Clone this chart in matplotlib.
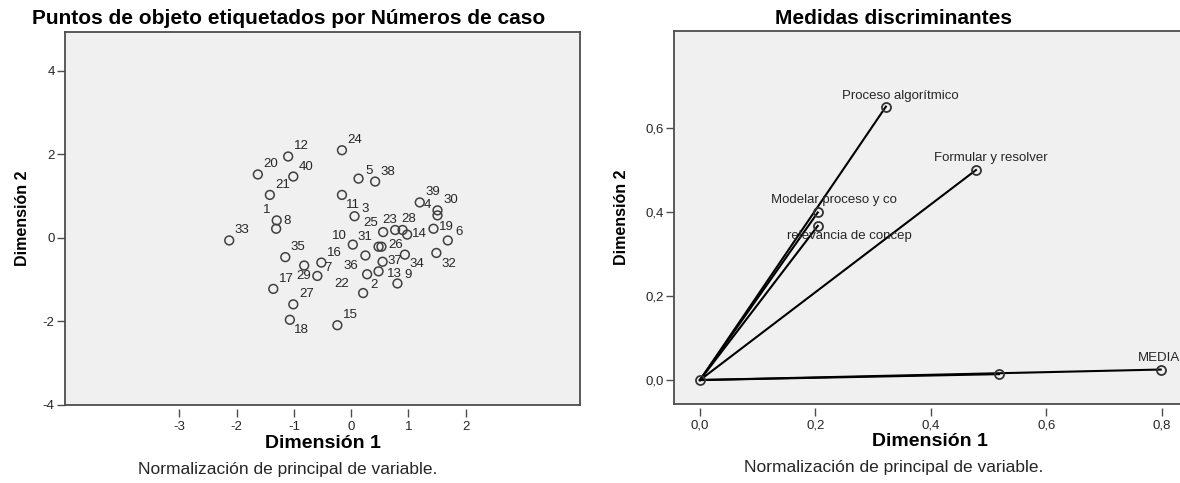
import matplotlib.pyplot as plt
from matplotlib.ticker import FuncFormatter

plt.rcParams['font.family'] = ['Liberation Sans', 'DejaVu Sans']
plt.rcParams['axes.unicode_minus'] = False

# Puntos de objeto: casos 1..40 (dimension 1, dimension 2)
casos = list(range(1, 41))
dim1_casos = [-1.30, 0.21, 0.06, 1.51, 0.13, 1.69, -0.59, -1.31, 0.81, 0.03,
              -0.16, -1.10, 0.48, 0.98, -0.24, -0.52, -1.36, -1.07, 1.44, -1.63,
              -1.42, 0.28, 0.77, -0.16, 0.56, 0.53, -1.01, 0.90, -0.82, 1.51,
              0.48, 1.49, -2.13, 0.94, -1.15, 0.25, 0.55, 0.42, 1.20, -1.01]
dim2_casos = [0.42, -1.32, 0.52, 0.54, 1.42, -0.06, -0.91, 0.22, -1.09, -0.16,
              1.03, 1.95, -0.80, 0.08, -2.09, -0.59, -1.22, -1.96, 0.22, 1.52,
              1.03, -0.87, 0.19, 2.10, 0.14, -0.21, -1.59, 0.19, -0.66, 0.66,
              -0.21, -0.36, -0.06, -0.40, -0.46, -0.42, -0.57, 1.35, 0.85, 1.47]

# Medidas discriminantes por variable
variables = ['Proceso algorítmico', 'Formular y resolver', 'Modelar proceso y co',
             'relevancia de concep', '', 'MEDIA']
dim1_var = [0.322, 0.478, 0.204, 0.204, 0.518, 0.798]
dim2_var = [0.651, 0.500, 0.399, 0.367, 0.014, 0.025]

ticks_x_casos = [-3, -2, -1, 0, 1, 2]
ticks_y_casos = [-4, -2, 0, 2, 4]
ticks_x_var = [0.0, 0.2, 0.4, 0.6, 0.8]
ticks_y_var = [0.0, 0.2, 0.4, 0.6]

# desplazamiento de las etiquetas (px, x a la derecha, y hacia abajo)
desp_defecto = (13, -10)
desp_casos = {1: (-10, -10), 4: (-10, -10), 11: (11, 10), 3: (11, -7),
              25: (-12, -9), 23: (-5, -10), 28: (6, -11), 14: (12, -1),
              19: (13, -2), 10: (-13, -9), 31: (-14, -10), 26: (14, -2),
              37: (12, -1), 34: (12, 9), 32: (12, 11), 36: (-15, 11),
              29: (0, 11), 13: (16, 3), 22: (-25, 10), 18: (12, 10)}
desp_var = [(14, -11), (15, -12), (16, -12), (32, 10), (0, 0), (-2, -12)]

FONDO = '#f0f0f0'
MARCO = '#4d4d4d'
TEXTO = '#262626'
PX = 0.72  # puntos por pixel a 100 dpi


def estilo_ejes(ax, xt, yt, fmt):
    ax.set_facecolor(FONDO)
    for s in ax.spines.values():
        s.set_color(MARCO)
        s.set_linewidth(1.3)
    ax.set_yticks(yt)
    ax.yaxis.set_major_formatter(FuncFormatter(fmt))
    ax.tick_params(axis='y', direction='out', length=6, width=1,
                   color=MARCO, labelsize=9.5, labelcolor=TEXTO, pad=1.5)
    ax.tick_params(axis='x', bottom=False, labelbottom=False)
    # marcas del eje x un poco separadas del marco
    sec = ax.secondary_xaxis(-0.012)
    sec.set_xticks(xt)
    sec.xaxis.set_major_formatter(FuncFormatter(fmt))
    sec.spines['bottom'].set_visible(False)
    sec.tick_params(axis='x', direction='out', length=6, width=1,
                    color=MARCO, labelsize=9.5, labelcolor=TEXTO, pad=2)


fig = plt.figure(figsize=(11.8, 4.83), dpi=100)

# ---- Puntos de objeto ----
ax1 = fig.add_axes([0.0551, 0.1615, 0.4364, 0.7722])
ax1.scatter(dim1_casos, dim2_casos, s=40, facecolors='none',
            edgecolors='#404040', linewidths=1.1, zorder=3)
for c, x, y in zip(casos, dim1_casos, dim2_casos):
    dx, dy = desp_casos.get(c, desp_defecto if c >= 10 else (11, -8))
    ax1.annotate(str(c), (x, y), xytext=(dx * PX, -dy * PX),
                 textcoords='offset points', ha='center', va='center',
                 fontsize=9.5, color=TEXTO)
ax1.set_xlim(-5, 4)
ax1.set_ylim(-4, 4.93)
estilo_ejes(ax1, ticks_x_casos, ticks_y_casos, lambda v, p: '%d' % v)
ax1.set_xlabel('Dimensión 1', fontsize=14, fontweight='bold', va='center')
ax1.xaxis.set_label_coords(0.5, -0.102)
ax1.set_ylabel('Dimensión 2', fontsize=11.5, fontweight='bold', va='center',
               family=['Liberation Sans Narrow', 'Liberation Sans'])
ax1.yaxis.set_label_coords(-0.083, 0.5)

# ---- Medidas discriminantes ----
ax2 = fig.add_axes([0.5712, 0.1636, 0.4330, 0.7722])
for x, y in zip(dim1_var, dim2_var):
    ax2.plot([0, x], [0, y], color='black', lw=1.5, zorder=2)
ax2.plot([0] + dim1_var, [0] + dim2_var, ls='none', marker='o', ms=6.5,
         mfc='none', mec='#333333', mew=1.3, zorder=3)
for nombre, x, y, (dx, dy) in zip(variables, dim1_var, dim2_var, desp_var):
    if nombre:
        ax2.annotate(nombre, (x, y), xytext=(dx * PX, -dy * PX),
                     textcoords='offset points', ha='center', va='center',
                     fontsize=9.5, color=TEXTO)
ax2.set_xlim(-0.045, 0.840)
ax2.set_ylim(-0.057, 0.831)
estilo_ejes(ax2, ticks_x_var, ticks_y_var,
            lambda v, p: ('%.1f' % v).replace('.', ','))
ax2.set_xlabel('Dimensión 1', fontsize=14, fontweight='bold', va='center')
ax2.xaxis.set_label_coords(0.5, -0.1)
ax2.set_ylabel('Dimensión 2', fontsize=11.5, fontweight='bold', va='center',
               family=['Liberation Sans Narrow', 'Liberation Sans'])
ax2.yaxis.set_label_coords(-0.102, 0.5)

# títulos y notas
fig.text(0.245, 0.962, 'Puntos de objeto etiquetados por Números de caso',
         ha='center', va='center', fontsize=15, fontweight='bold', color='black')
fig.text(0.757, 0.962, 'Medidas discriminantes', ha='center', va='center',
         fontsize=15, fontweight='bold', color='black')
fig.text(0.244, 0.027, 'Normalización de principal de variable.',
         ha='center', va='center', fontsize=12.5, color=TEXTO)
fig.text(0.757, 0.033, 'Normalización de principal de variable.',
         ha='center', va='center', fontsize=12.5, color=TEXTO)

fig.savefig('out.png', dpi=100, facecolor='white')
